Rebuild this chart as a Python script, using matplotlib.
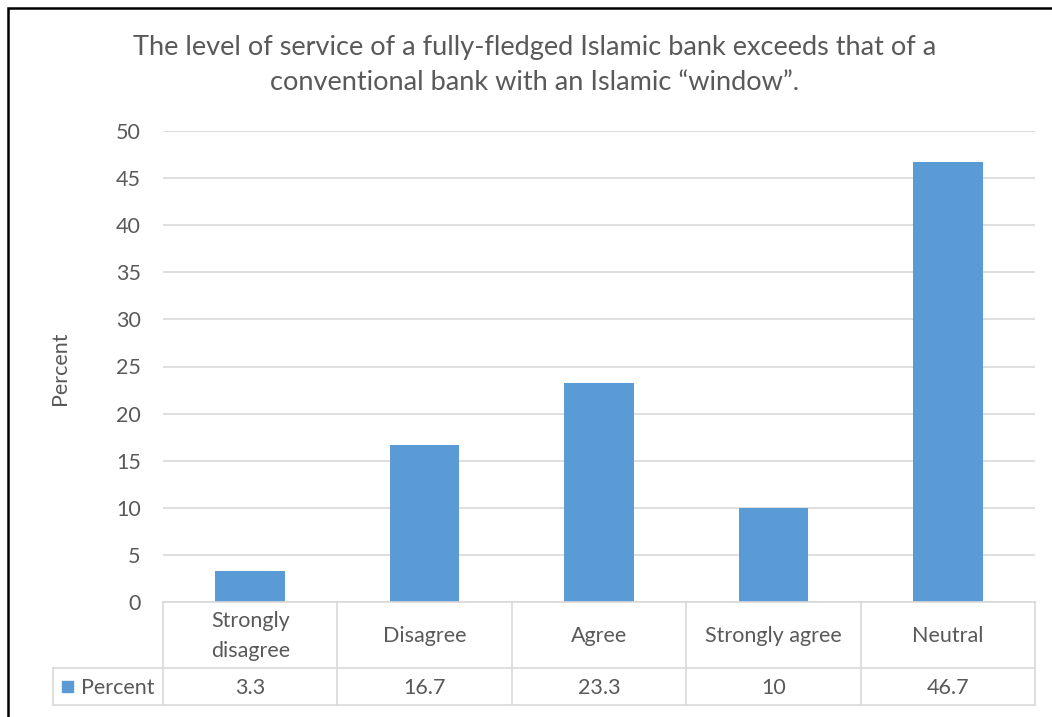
import matplotlib.pyplot as plt
from matplotlib.patches import Rectangle
from matplotlib.lines import Line2D

plt.rcParams['font.family'] = ['Lato', 'DejaVu Sans']

# Survey responses
categories = ['Strongly\ndisagree', 'Disagree', 'Agree', 'Strongly agree', 'Neutral']
percent = [3.3, 16.7, 23.3, 10, 46.7]
value_labels = ['3.3', '16.7', '23.3', '10', '46.7']
series_name = 'Percent'
title = ('The level of service of a fully-fledged Islamic bank exceeds that of a\n'
         'conventional bank with an Islamic \u201cwindow\u201d.')

bar_color = '#5B9BD5'
text_color = '#595959'
grid_color = '#D9D9D9'
fs = 15.5

W, H = 1052, 717
fig = plt.figure(figsize=(W / 100, H / 100), dpi=100)

# plot area in pixels
left, right, top, bottom = 163, 1035, 131, 602
ax = fig.add_axes([left / W, (H - bottom) / H, (right - left) / W, (bottom - top) / H])

x = range(len(categories))
ax.bar(x, percent, width=0.40, color=bar_color, zorder=3)
ax.set_xlim(-0.5, len(categories) - 0.5)
ax.set_ylim(0, 50)
ax.set_yticks(range(0, 51, 5))
ax.yaxis.grid(True, color=grid_color, linewidth=1.2, zorder=0)
ax.set_xticks([])
ax.tick_params(axis='y', length=0, pad=16, labelsize=fs, labelcolor=text_color)
for s in ax.spines.values():
    s.set_visible(False)


def px(xp, yp):
    return (xp / W, 1 - yp / H)


fig.text(*px(60, 368), 'Percent', rotation=90, ha='center', va='center',
         fontsize=fs, color=text_color)

fig.text(*px(535, 65), title, ha='center', va='center',
         fontsize=19.5, color=text_color, linespacing=1.45)

# data table under the plot area
row1_bot, row2_bot = 668, 705
col_w = (right - left) / len(categories)
legend_left = 53

lines = [
    ((left, right), (bottom, bottom)),
    ((legend_left, right), (row1_bot, row1_bot)),
    ((legend_left, right), (row2_bot, row2_bot)),
    ((legend_left, legend_left), (row1_bot, row2_bot)),
]
for i in range(len(categories) + 1):
    xc = left + i * col_w
    lines.append(((xc, xc), (bottom, row2_bot)))
for (xs, ys) in lines:
    fig.add_artist(Line2D([xs[0] / W, xs[1] / W], [1 - ys[0] / H, 1 - ys[1] / H],
                          color=grid_color, linewidth=1.2))

for i, (cat, val) in enumerate(zip(categories, value_labels)):
    xc = left + (i + 0.5) * col_w
    fig.text(*px(xc, (bottom + row1_bot) / 2 + 1), cat, ha='center', va='center',
             fontsize=fs, color=text_color, linespacing=1.6)
    fig.text(*px(xc, (row1_bot + row2_bot) / 2 + 1), val, ha='center', va='center',
             fontsize=fs, color=text_color)

# legend key in the table
fig.add_artist(Rectangle(px(62, 692), 11 / W, 11 / H, color=bar_color))
fig.text(*px(81, (row1_bot + row2_bot) / 2 + 1), series_name, ha='left', va='center',
         fontsize=fs, color=text_color)

# outer frame
fig.add_artist(Rectangle(px(8, H + 5), (W + 5) / W, (H - 8 + 5) / H, fill=False,
                         edgecolor='black', linewidth=1.8))

fig.savefig('out.png', dpi=100, facecolor='white')
